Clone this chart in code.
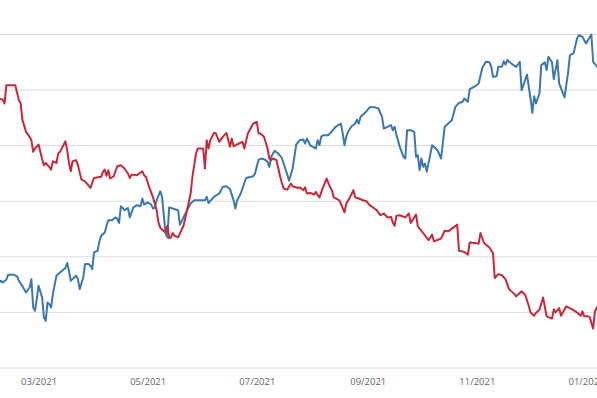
<!DOCTYPE html>
<html>
<head>
<meta charset="utf-8">
<script src="https://cdn.jsdelivr.net/npm/d3@7"></script>
<style>
  html, body { margin: 0; padding: 0; background: #fff; overflow: hidden; }
  #container svg { display: block; }
</style>
</head>
<body>
<div id="container"></div>
<script>
const blueDates = [
  "2021-02-07", "2021-02-08", "2021-02-09", "2021-02-11", "2021-02-12", "2021-02-15", "2021-02-17", "2021-02-18",
  "2021-02-20", "2021-02-22", "2021-02-24", "2021-02-25", "2021-02-26", "2021-02-27", "2021-02-28", "2021-03-01",
  "2021-03-03", "2021-03-04", "2021-03-05", "2021-03-06", "2021-03-07", "2021-03-08", "2021-03-09", "2021-03-11",
  "2021-03-13", "2021-03-16", "2021-03-17", "2021-03-18", "2021-03-19", "2021-03-20", "2021-03-22", "2021-03-23",
  "2021-03-24", "2021-03-26", "2021-03-27", "2021-03-29", "2021-03-30", "2021-03-31", "2021-04-01", "2021-04-03",
  "2021-04-04", "2021-04-05", "2021-04-07", "2021-04-08", "2021-04-09", "2021-04-11", "2021-04-13", "2021-04-14",
  "2021-04-15", "2021-04-16", "2021-04-17", "2021-04-18", "2021-04-20", "2021-04-21", "2021-04-23", "2021-04-25",
  "2021-04-27", "2021-04-28", "2021-04-29", "2021-05-01", "2021-05-03", "2021-05-04", "2021-05-05", "2021-05-06",
  "2021-05-08", "2021-05-09", "2021-05-10", "2021-05-11", "2021-05-12", "2021-05-13", "2021-05-15", "2021-05-18",
  "2021-05-19", "2021-05-21", "2021-05-23", "2021-05-25", "2021-05-27", "2021-05-30", "2021-06-02", "2021-06-03",
  "2021-06-04", "2021-06-07", "2021-06-10", "2021-06-12", "2021-06-14", "2021-06-16", "2021-06-18", "2021-06-19",
  "2021-06-20", "2021-06-22", "2021-06-23", "2021-06-25", "2021-06-29", "2021-06-30", "2021-07-02", "2021-07-04",
  "2021-07-06", "2021-07-07", "2021-07-08", "2021-07-09", "2021-07-11", "2021-07-13", "2021-07-15", "2021-07-18",
  "2021-07-19", "2021-07-21", "2021-07-22", "2021-07-23", "2021-07-25", "2021-07-27", "2021-07-28", "2021-07-29",
  "2021-07-31", "2021-08-03", "2021-08-04", "2021-08-05", "2021-08-06", "2021-08-07", "2021-08-10", "2021-08-12",
  "2021-08-14", "2021-08-17", "2021-08-18", "2021-08-19", "2021-08-20", "2021-08-21", "2021-08-23", "2021-08-25",
  "2021-08-26", "2021-08-27", "2021-08-28", "2021-08-30", "2021-08-31", "2021-09-02", "2021-09-05", "2021-09-07",
  "2021-09-09", "2021-09-10", "2021-09-12", "2021-09-14", "2021-09-15", "2021-09-16", "2021-09-17", "2021-09-19",
  "2021-09-21", "2021-09-22", "2021-09-23", "2021-09-25", "2021-09-27", "2021-09-28", "2021-09-29", "2021-09-30",
  "2021-10-01", "2021-10-02", "2021-10-03", "2021-10-04", "2021-10-07", "2021-10-10", "2021-10-12", "2021-10-14",
  "2021-10-16", "2021-10-18", "2021-10-20", "2021-10-22", "2021-10-24", "2021-10-25", "2021-10-27", "2021-10-28",
  "2021-10-31", "2021-11-02", "2021-11-04", "2021-11-06", "2021-11-08", "2021-11-09", "2021-11-10", "2021-11-12",
  "2021-11-13", "2021-11-15", "2021-11-16", "2021-11-17", "2021-11-18", "2021-11-21", "2021-11-23", "2021-11-25",
  "2021-11-26", "2021-11-27", "2021-11-29", "2021-12-01", "2021-12-02", "2021-12-03", "2021-12-04", "2021-12-06",
  "2021-12-07", "2021-12-09", "2021-12-10", "2021-12-11", "2021-12-13", "2021-12-14", "2021-12-16", "2021-12-17",
  "2021-12-20", "2021-12-22", "2021-12-23", "2021-12-25", "2021-12-27", "2021-12-28", "2021-12-30", "2022-01-01",
  "2022-01-04", "2022-01-05", "2022-01-07", "2022-01-08"
];
const blueValues = [
  15.4, 15.6, 15.3, 15.8, 16.7, 16.7, 16.4, 15.6,
  14.6, 13.5, 14.4, 15.9, 10.8, 10.2, 12.3, 14.7,
  12.6, 9.0, 8.4, 11.7, 11.4, 10.8, 13.2, 16.5,
  17.1, 17.9, 18.8, 17.4, 15.6, 15.9, 16.5, 15.9,
  14.1, 16.2, 18.6, 18.6, 18.3, 17.7, 20.7, 21.0,
  22.7, 23.7, 24.3, 25.5, 26.5, 26.5, 27.0, 26.8,
  26.0, 29.0, 28.7, 28.3, 28.7, 27.0, 28.8, 29.2,
  29.0, 30.4, 29.3, 29.7, 29.3, 28.6, 28.8, 30.1,
  31.7, 30.8, 27.4, 24.1, 23.4, 28.8, 28.6, 28.3,
  25.7, 27.0, 28.3, 29.5, 30.1, 30.1, 30.1, 30.7,
  29.6, 30.7, 31.3, 32.5, 32.6, 32.1, 30.1, 28.6,
  30.1, 31.3, 32.2, 34.1, 34.4, 34.9, 37.4, 37.6,
  37.3, 37.0, 36.1, 37.9, 39.0, 38.5, 37.7, 34.7,
  33.6, 35.8, 37.9, 40.1, 40.9, 41.0, 40.3, 41.2,
  39.9, 39.4, 40.9, 40.0, 41.5, 41.8, 41.8, 42.5,
  43.3, 43.9, 42.1, 40.0, 41.5, 42.4, 43.4, 43.9,
  44.6, 43.9, 45.1, 45.7, 46.0, 46.8, 46.8, 46.6,
  45.1, 43.0, 43.3, 43.6, 42.7, 43.3, 41.9, 39.6,
  37.9, 37.6, 42.7, 42.7, 42.4, 37.9, 38.2, 35.5,
  37.6, 36.1, 36.7, 35.2, 40.0, 39.1, 37.6, 43.3,
  43.9, 44.5, 46.9, 47.6, 47.8, 48.4, 47.8, 50.1,
  50.6, 51.1, 53.9, 55.0, 54.9, 54.2, 52.3, 52.4,
  54.1, 54.1, 55.1, 54.5, 55.3, 54.5, 54.1, 55.0,
  49.9, 50.8, 52.7, 48.4, 45.8, 48.8, 47.5, 49.3,
  54.4, 54.9, 53.5, 55.9, 54.9, 51.9, 55.3, 51.1,
  48.6, 53.1, 56.2, 56.5, 59.2, 59.8, 59.5, 58.3,
  59.9, 55.0, 54.2, 53.8
];

const redDates = [
  "2021-02-07", "2021-02-09", "2021-02-10", "2021-02-11", "2021-02-16", "2021-02-18", "2021-02-19", "2021-02-20",
  "2021-02-22", "2021-02-24", "2021-02-25", "2021-02-26", "2021-02-27", "2021-03-01", "2021-03-03", "2021-03-04",
  "2021-03-05", "2021-03-07", "2021-03-08", "2021-03-09", "2021-03-11", "2021-03-12", "2021-03-13", "2021-03-16",
  "2021-03-17", "2021-03-18", "2021-03-19", "2021-03-20", "2021-03-22", "2021-03-23", "2021-03-25", "2021-03-27",
  "2021-03-30", "2021-04-01", "2021-04-05", "2021-04-06", "2021-04-07", "2021-04-08", "2021-04-09", "2021-04-10",
  "2021-04-12", "2021-04-14", "2021-04-16", "2021-04-18", "2021-04-20", "2021-04-21", "2021-04-22", "2021-04-25",
  "2021-04-28", "2021-04-29", "2021-04-30", "2021-05-02", "2021-05-04", "2021-05-06", "2021-05-07", "2021-05-08",
  "2021-05-09", "2021-05-11", "2021-05-12", "2021-05-13", "2021-05-14", "2021-05-15", "2021-05-16", "2021-05-18",
  "2021-05-19", "2021-05-21", "2021-05-23", "2021-05-25", "2021-05-26", "2021-05-28", "2021-05-29", "2021-05-30",
  "2021-06-01", "2021-06-02", "2021-06-03", "2021-06-04", "2021-06-05", "2021-06-07", "2021-06-08", "2021-06-10",
  "2021-06-12", "2021-06-14", "2021-06-16", "2021-06-17", "2021-06-18", "2021-06-21", "2021-06-23", "2021-06-24",
  "2021-06-26", "2021-06-29", "2021-07-01", "2021-07-02", "2021-07-03", "2021-07-05", "2021-07-07", "2021-07-08",
  "2021-07-09", "2021-07-10", "2021-07-12", "2021-07-14", "2021-07-15", "2021-07-16", "2021-07-18", "2021-07-20",
  "2021-07-21", "2021-07-24", "2021-07-25", "2021-07-27", "2021-07-28", "2021-07-29", "2021-07-31", "2021-08-02",
  "2021-08-03", "2021-08-04", "2021-08-05", "2021-08-07", "2021-08-09", "2021-08-11", "2021-08-12", "2021-08-13",
  "2021-08-16", "2021-08-17", "2021-08-19", "2021-08-20", "2021-08-22", "2021-08-24", "2021-08-25", "2021-08-27",
  "2021-08-30", "2021-08-31", "2021-09-02", "2021-09-04", "2021-09-06", "2021-09-08", "2021-09-10", "2021-09-12",
  "2021-09-14", "2021-09-15", "2021-09-16", "2021-09-17", "2021-09-19", "2021-09-22", "2021-09-24", "2021-09-25",
  "2021-09-28", "2021-09-29", "2021-10-01", "2021-10-05", "2021-10-07", "2021-10-08", "2021-10-12", "2021-10-14",
  "2021-10-16", "2021-10-19", "2021-10-21", "2021-10-22", "2021-10-25", "2021-10-27", "2021-10-28", "2021-11-02",
  "2021-11-03", "2021-11-05", "2021-11-08", "2021-11-10", "2021-11-11", "2021-11-13", "2021-11-15", "2021-11-17",
  "2021-11-19", "2021-11-22", "2021-11-23", "2021-11-26", "2021-11-28", "2021-11-30", "2021-12-01", "2021-12-03",
  "2021-12-04", "2021-12-06", "2021-12-08", "2021-12-10", "2021-12-13", "2021-12-14", "2021-12-15", "2021-12-17",
  "2021-12-18", "2021-12-21", "2021-12-24", "2021-12-27", "2021-12-29", "2021-12-30", "2021-12-31", "2022-01-02",
  "2022-01-03", "2022-01-05", "2022-01-06", "2022-01-07", "2022-01-08"
];
const redValues = [
  48.4, 48.2, 47.5, 50.8, 50.8, 48.1, 47.5, 44.5,
  42.4, 41.5, 40.9, 38.8, 39.4, 40.1, 37.5, 36.4,
  36.8, 36.1, 35.6, 37.1, 36.8, 38.5, 38.8, 40.7,
  39.1, 36.8, 35.3, 37.1, 37.3, 36.4, 33.8, 33.5,
  32.3, 34.1, 34.3, 35.2, 35.6, 34.5, 35.5, 34.0,
  34.4, 36.2, 36.4, 35.8, 34.9, 34.1, 34.7, 34.6,
  35.3, 34.6, 34.3, 32.3, 30.6, 28.3, 26.1, 25.2,
  24.8, 24.3, 25.5, 23.3, 23.4, 24.2, 23.7, 23.4,
  24.1, 25.5, 28.3, 31.3, 34.3, 38.5, 39.4, 39.4,
  39.4, 35.8, 40.9, 39.4, 40.9, 42.2, 42.2, 40.6,
  41.5, 42.2, 39.7, 41.2, 39.8, 40.3, 40.6, 39.4,
  42.1, 43.9, 44.2, 42.1, 42.1, 41.5, 39.4, 37.6,
  37.3, 37.6, 37.3, 34.4, 33.2, 32.2, 32.0, 33.1,
  32.6, 32.3, 32.4, 31.9, 32.4, 31.3, 31.4, 31.1,
  31.6, 31.0, 30.6, 32.4, 34.0, 32.4, 31.9, 30.6,
  30.1, 29.5, 27.9, 29.5, 30.6, 31.9, 30.6, 30.4,
  30.0, 30.0, 29.2, 28.8, 28.3, 27.4, 27.7, 27.0,
  27.1, 26.1, 25.5, 27.3, 27.4, 27.0, 27.7, 26.0,
  27.5, 25.4, 24.6, 22.9, 23.9, 22.7, 23.2, 24.6,
  24.5, 25.2, 25.7, 21.0, 20.8, 20.3, 22.5, 22.3,
  24.2, 22.4, 21.6, 20.6, 16.1, 16.8, 16.6, 15.9,
  14.1, 13.2, 12.8, 13.7, 13.1, 11.1, 9.9, 9.3,
  9.8, 10.4, 12.6, 9.2, 8.8, 10.5, 9.9, 10.7,
  9.3, 11.0, 10.5, 9.9, 9.3, 10.1, 9.2, 9.2,
  9.1, 7.0, 10.1, 10.7, 11.3
];

const yTicks = [0, 10, 20, 30, 40, 50, 60];
const xTicks = ["2021-03-01", "2021-05-01", "2021-07-01", "2021-09-01", "2021-11-01", "2022-01-01"];
const xStart = "2021-01-01";
const xEnd = "2022-01-01";

const width = 597;
const height = 398;
// plot area runs off the left edge (y labels are outside the view)
const margin = { top: 34, right: 11, bottom: 31, left: -67 };

const parseDate = d3.timeParse("%Y-%m-%d");
const blueData = blueDates.map((d, i) => ({ date: parseDate(d), value: blueValues[i] }));
const redData = redDates.map((d, i) => ({ date: parseDate(d), value: redValues[i] }));

const svg = d3
  .select("#container")
  .append("svg")
  .attr("width", width)
  .attr("height", height);

const xScale = d3
  .scaleTime()
  .domain([parseDate(xStart), parseDate(xEnd)])
  .range([margin.left, width - margin.right]);

const yScale = d3
  .scaleLinear()
  .domain([0, 60])
  .range([height - margin.bottom + 0.5, margin.top]);

// horizontal grid lines
svg
  .append("g")
  .attr("class", "grid")
  .attr("transform", `translate(${margin.left}, 0)`)
  .call(
    d3
      .axisLeft(yScale)
      .tickValues(yTicks)
      .tickSize(-(width - margin.right - margin.left + 20))
      .tickFormat("")
  )
  .call((g) => g.select(".domain").remove())
  .call((g) => g.selectAll("line").attr("stroke", "#dedede").attr("stroke-width", 1));

const xAxis = d3
  .axisBottom(xScale)
  .tickValues(xTicks.map(parseDate))
  .tickFormat(d3.timeFormat("%m/%Y"))
  .tickSize(0)
  .tickPadding(11);

svg
  .append("g")
  .attr("id", "x-axis")
  .attr("transform", `translate(0, ${yScale(0)})`)
  .call(xAxis)
  .call((g) => g.select(".domain").remove())
  .call((g) =>
    g
      .selectAll("text")
      .attr("fill", "#666")
      .attr("font-family", "'Open Sans', sans-serif")
      .attr("font-size", "9.5px")
  );

const line = d3
  .line()
  .x((d) => xScale(d.date))
  .y((d) => yScale(d.value));

svg
  .append("path")
  .datum(blueData)
  .attr("fill", "none")
  .attr("stroke", "#3b78b0")
  .attr("stroke-width", 2)
  .attr("stroke-linejoin", "round")
  .attr("d", line);

svg
  .append("path")
  .datum(redData)
  .attr("fill", "none")
  .attr("stroke", "#c9283a")
  .attr("stroke-width", 2)
  .attr("stroke-linejoin", "round")
  .attr("d", line);
</script>
</body>
</html>
